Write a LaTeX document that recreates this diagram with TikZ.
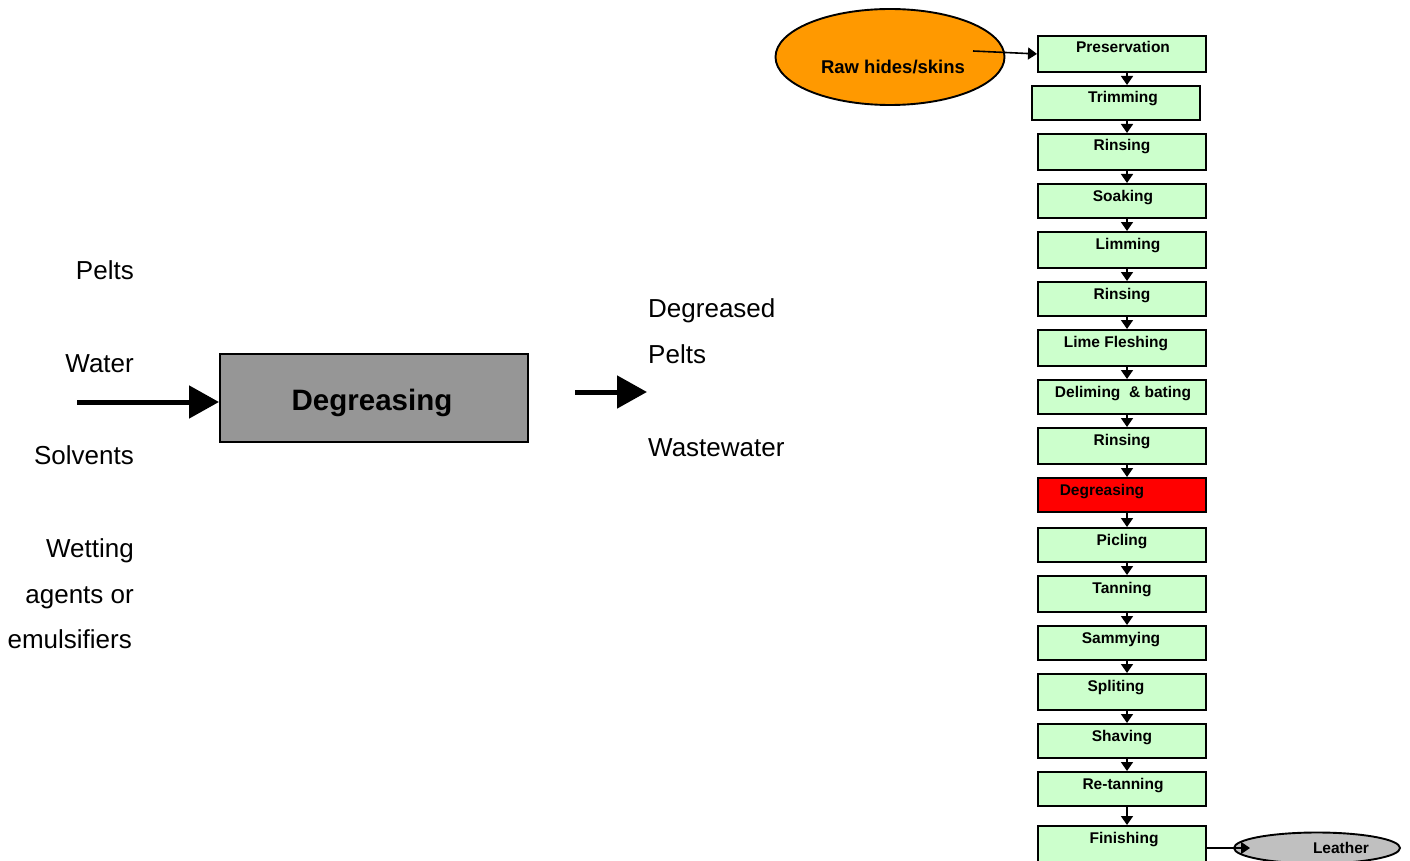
\documentclass[tikz,border=0pt]{standalone}
\usepackage{fontspec}
\setmainfont{Liberation Sans}
\usetikzlibrary{arrows.meta,shapes.geometric}
\definecolor{boxgreen}{HTML}{CCFFCC}
\definecolor{rawfill}{HTML}{FF9900}
\definecolor{leatherfill}{HTML}{C0C0C0}
\definecolor{procgray}{HTML}{969696}
\begin{document}
\begin{tikzpicture}[x=1pt,y=-1pt,
  stepbox/.style={draw=black, line width=1.9pt, minimum width=168pt, anchor=north west, inner sep=0pt},
  steptext/.style={anchor=base, inner sep=0pt, font=\fontsize{15.5}{18}\selectfont\bfseries},
  flowarrow/.style={line width=1.6pt, -{Triangle[length=9pt,width=12pt]}},
  sidetext/.style={inner sep=0pt, font=\fontsize{26}{30}\selectfont},
  bigarrow/.style={line width=5pt, -{Triangle[length=30pt,width=32pt]}},
  oval/.style={ellipse, draw=black, line width=1.9pt, inner sep=0pt}]
\useasboundingbox (0,0) rectangle (1410,861);

% main process box with its inputs and outputs
\node[draw=black, line width=1.6pt, fill=procgray, minimum width=308pt, minimum height=88pt,
      anchor=north west, inner sep=0pt] (deg) at (219,353) {};
\node[anchor=base, inner sep=0pt, font=\fontsize{29.5}{34}\selectfont\bfseries] (degtxt) at (372,410) {Degreasing};

\node[sidetext, anchor=base east] (in1) at (134,279) {Pelts};
\node[sidetext, anchor=base east] (in2) at (134,372) {Water};
\node[sidetext, anchor=base east] (in3) at (134,464) {Solvents};
\node[sidetext, anchor=base east] (in4) at (134,557) {Wetting};
\node[sidetext, anchor=base east] (in5) at (134,603) {agents or};
\node[sidetext, anchor=base east] (in6) at (132,648) {emulsifiers};

\node[sidetext, anchor=base west] (out1) at (648,317) {Degreased};
\node[sidetext, anchor=base west] (out2) at (648,363) {Pelts};
\node[sidetext, anchor=base west] (out3) at (648,456) {Wastewater};

\coordinate (instart) at (77,402);
\draw[bigarrow] (instart) -- (deg.west |- instart);
\coordinate (outstart) at (575,392);
\coordinate (outend) at (647,392);
\draw[bigarrow] (outstart) -- (outend);

% tannery process chain
\coordinate (ax) at (1127,0);
\foreach \i/\lab/\bx/\by/\bh/\cx/\fc in {
  1/Preservation/1037/35/36/1123/boxgreen,
  2/Trimming/1031/85/34/1123/boxgreen,
  3/Rinsing/1037/133/36/1122/boxgreen,
  4/Soaking/1037/183/34/1123/boxgreen,
  5/Limming/1037/231/36/1128/boxgreen,
  6/Rinsing/1037/281/34/1122/boxgreen,
  7/Lime Fleshing/1037/329/36/1116/boxgreen,
  8/Deliming \ \& bating/1037/379/34/1123/boxgreen,
  9/Rinsing/1037/427/36/1122/boxgreen,
  10/Degreasing/1037/477/34/1102/red,
  11/Picling/1037/527/34/1122/boxgreen,
  12/Tanning/1037/575/36/1122/boxgreen,
  13/Sammying/1037/625/34/1121/boxgreen,
  14/Spliting/1037/673/36/1116/boxgreen,
  15/Shaving/1037/723/34/1122/boxgreen,
  16/Re-tanning/1037/771/34/1123/boxgreen,
  17/Finishing/1037/825/36/1124/boxgreen}{
  \node[stepbox, fill=\fc, minimum height=\bh pt] (b\i) at (\bx,\by) {};
  \node[steptext] (t\i) at (\cx,\by+18) {\lab};
}
\foreach \i [evaluate=\i as \j using int(\i+1)] in {1,...,16}{
  \draw[flowarrow] (b\i.south -| ax) -- (b\j.north -| ax);
}

% raw material and product
\node[oval, fill=rawfill, minimum width=229pt, minimum height=96pt] (raw) at (890,57) {};
\node[anchor=base, inner sep=0pt, font=\fontsize{18.5}{22}\selectfont\bfseries] (rawtxt) at (893,74) {Raw hides/skins};
\coordinate (rawout) at (973,51);
\draw[flowarrow] (rawout) -- (b1.west);

\node[oval, fill=leatherfill, minimum width=166pt, minimum height=31pt] (leather) at (1317,848) {};
\node[anchor=base, inner sep=0pt, font=\fontsize{15.5}{18}\selectfont\bfseries] (leathertxt) at (1341,853) {Leather};
\coordinate (leatherin) at (1250,848);
\draw[flowarrow] (b17.east |- leatherin) -- (leatherin);
\end{tikzpicture}
\end{document}
